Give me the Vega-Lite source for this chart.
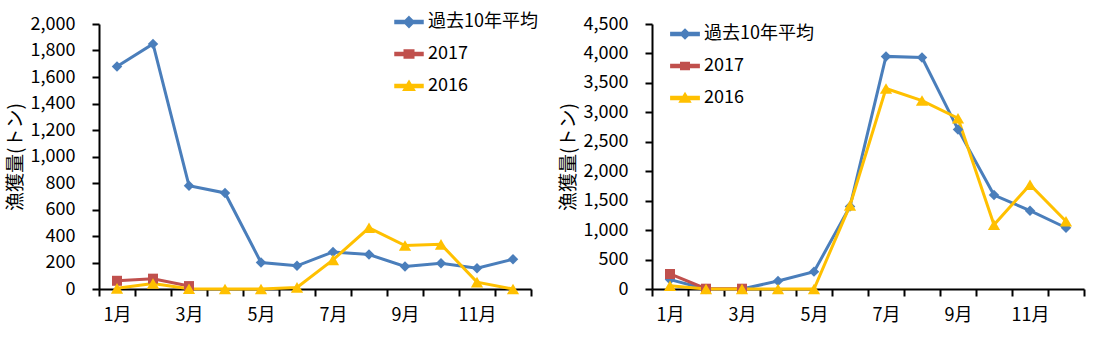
{
  "$schema": "https://vega.github.io/schema/vega-lite/v6.json",
  "background": "white",
  "padding": {"left": 6, "top": 7, "right": 5, "bottom": 5},
  "bounds": "flush",
  "spacing": 121,
  "resolve": {"scale": {"color": "independent"}, "legend": {"color": "independent"}},
  "datasets": {
    "left": [
      {"month": 1, "series": "過去10年平均", "value": 1680},
      {"month": 2, "series": "過去10年平均", "value": 1850},
      {"month": 3, "series": "過去10年平均", "value": 780},
      {"month": 4, "series": "過去10年平均", "value": 725},
      {"month": 5, "series": "過去10年平均", "value": 200},
      {"month": 6, "series": "過去10年平均", "value": 175},
      {"month": 7, "series": "過去10年平均", "value": 280},
      {"month": 8, "series": "過去10年平均", "value": 260},
      {"month": 9, "series": "過去10年平均", "value": 170},
      {"month": 10, "series": "過去10年平均", "value": 195},
      {"month": 11, "series": "過去10年平均", "value": 157},
      {"month": 12, "series": "過去10年平均", "value": 225},
      {"month": 1, "series": "2017", "value": 62},
      {"month": 2, "series": "2017", "value": 78},
      {"month": 3, "series": "2017", "value": 22},
      {"month": 1, "series": "2016", "value": 5},
      {"month": 2, "series": "2016", "value": 42},
      {"month": 3, "series": "2016", "value": 2},
      {"month": 4, "series": "2016", "value": 0},
      {"month": 5, "series": "2016", "value": 0},
      {"month": 6, "series": "2016", "value": 12},
      {"month": 7, "series": "2016", "value": 220},
      {"month": 8, "series": "2016", "value": 462},
      {"month": 9, "series": "2016", "value": 328},
      {"month": 10, "series": "2016", "value": 337},
      {"month": 11, "series": "2016", "value": 52},
      {"month": 12, "series": "2016", "value": 0}
    ],
    "right": [
      {"month": 1, "series": "過去10年平均", "value": 160},
      {"month": 2, "series": "過去10年平均", "value": 0},
      {"month": 3, "series": "過去10年平均", "value": 0},
      {"month": 4, "series": "過去10年平均", "value": 135},
      {"month": 5, "series": "過去10年平均", "value": 295},
      {"month": 6, "series": "過去10年平均", "value": 1400},
      {"month": 7, "series": "過去10年平均", "value": 3950},
      {"month": 8, "series": "過去10年平均", "value": 3930},
      {"month": 9, "series": "過去10年平均", "value": 2710},
      {"month": 10, "series": "過去10年平均", "value": 1595},
      {"month": 11, "series": "過去10年平均", "value": 1330},
      {"month": 12, "series": "過去10年平均", "value": 1040},
      {"month": 1, "series": "2017", "value": 255},
      {"month": 2, "series": "2017", "value": 5},
      {"month": 3, "series": "2017", "value": 5},
      {"month": 1, "series": "2016", "value": 55},
      {"month": 2, "series": "2016", "value": 0},
      {"month": 3, "series": "2016", "value": 0},
      {"month": 4, "series": "2016", "value": 0},
      {"month": 5, "series": "2016", "value": 0},
      {"month": 6, "series": "2016", "value": 1420},
      {"month": 7, "series": "2016", "value": 3405},
      {"month": 8, "series": "2016", "value": 3200},
      {"month": 9, "series": "2016", "value": 2900},
      {"month": 10, "series": "2016", "value": 1090},
      {"month": 11, "series": "2016", "value": 1770},
      {"month": 12, "series": "2016", "value": 1150}
    ]
  },
  "hconcat": [
    {
      "width": 432,
      "height": 265,
      "data": {"name": "left"},
      "encoding": {
        "x": {"field": "month", "type": "ordinal", "bandPosition": 0.5, "scale": {"type": "band", "paddingInner": 0, "paddingOuter": 0},
          "axis": {"title": null, "labelAngle": 0, "tickBand": "extent", "labelExpr": "datum.value % 2 == 1 ? datum.value + '月' : ''", "labelPadding": 10}},
        "y": {"field": "value", "type": "quantitative", "scale": {"domain": [0, 2000], "nice": false, "zero": true},
          "axis": {"title": "漁獲量(トン)", "values": [0, 200, 400, 600, 800, 1000, 1200, 1400, 1600, 1800, 2000], "format": ",d", "labelPadding": 17, "titlePadding": 5, "labelOverlap": false}}
      },
      "layer": [
        {
          "mark": {"type": "line", "strokeWidth": 3},
          "encoding": {
            "color": {"field": "series", "type": "nominal",
              "scale": {"domain": ["過去10年平均", "2017", "2016"], "range": ["#4A7EBB", "#C0504D", "#FFC000"]},
              "legend": {"orient": "none", "legendX": 295, "legendY": -17, "title": null, "symbolSize": 784, "labelOffset": 4, "rowPadding": 8, "padding": 0, "labelFontSize": 18, "labelColor": "black",
                "encode": {"symbols": {"update": {
                  "shape": {"signal": "datum.value === '2017' ? 'M-1,-0.1L1,-0.1L1,0.1L-1,0.1ZM-0.34,-0.28L0.34,-0.28L0.34,0.28L-0.34,0.28Z' : datum.value === '2016' ? 'M-1,-0.1L1,-0.1L1,0.1L-1,0.1ZM0,-0.36L0.4,0.3L-0.4,0.3Z' : 'M-1,-0.1L1,-0.1L1,0.1L-1,0.1ZM0,-0.38L0.38,0L0,0.38L-0.38,0Z'"},
                  "fill": {"signal": "datum.value === '2017' ? '#C0504D' : datum.value === '2016' ? '#FFC000' : '#4A7EBB'"},
                  "fillOpacity": {"value": 1},
                  "opacity": {"value": 1}
                }}}}}
          }
        },
        {
          "transform": [{"filter": "datum.series === '過去10年平均'"}],
          "mark": {"type": "point", "filled": true, "opacity": 1, "shape": "diamond", "size": 110, "color": "#4A7EBB"}
        },
        {
          "transform": [{"filter": "datum.series === '2017'"}],
          "mark": {"type": "point", "filled": true, "opacity": 1, "shape": "square", "size": 100, "color": "#C0504D"}
        },
        {
          "transform": [{"filter": "datum.series === '2016'"}],
          "mark": {"type": "point", "filled": true, "opacity": 1, "shape": "triangle-up", "size": 150, "color": "#FFC000"}
        }
      ]
    },
    {
      "width": 432,
      "height": 265,
      "data": {"name": "right"},
      "encoding": {
        "x": {"field": "month", "type": "ordinal", "bandPosition": 0.5, "scale": {"type": "band", "paddingInner": 0, "paddingOuter": 0},
          "axis": {"title": null, "labelAngle": 0, "tickBand": "extent", "labelExpr": "datum.value % 2 == 1 ? datum.value + '月' : ''", "labelPadding": 10}},
        "y": {"field": "value", "type": "quantitative", "scale": {"domain": [0, 4500], "nice": false, "zero": true},
          "axis": {"title": "漁獲量(トン)", "values": [0, 500, 1000, 1500, 2000, 2500, 3000, 3500, 4000, 4500], "format": ",d", "labelPadding": 17, "titlePadding": 5, "labelOverlap": false}}
      },
      "layer": [
        {
          "mark": {"type": "line", "strokeWidth": 3},
          "encoding": {
            "color": {"field": "series", "type": "nominal",
              "scale": {"domain": ["過去10年平均", "2017", "2016"], "range": ["#4A7EBB", "#C0504D", "#FFC000"]},
              "legend": {"orient": "none", "legendX": 18, "legendY": -5, "title": null, "symbolSize": 800, "labelOffset": 4, "rowPadding": 8, "padding": 0, "labelFontSize": 18, "labelColor": "black",
                "encode": {"symbols": {"update": {
                  "shape": {"signal": "datum.value === '2017' ? 'M-1,-0.1L1,-0.1L1,0.1L-1,0.1ZM-0.3,-0.24L0.3,-0.24L0.3,0.24L-0.3,0.24Z' : datum.value === '2016' ? 'M-1,-0.1L1,-0.1L1,0.1L-1,0.1ZM0,-0.34L0.38,0.28L-0.38,0.28Z' : 'M-1,-0.1L1,-0.1L1,0.1L-1,0.1ZM0,-0.34L0.34,0L0,0.34L-0.34,0Z'"},
                  "fill": {"signal": "datum.value === '2017' ? '#C0504D' : datum.value === '2016' ? '#FFC000' : '#4A7EBB'"},
                  "fillOpacity": {"value": 1},
                  "opacity": {"value": 1}
                }}}}}
          }
        },
        {
          "transform": [{"filter": "datum.series === '過去10年平均'"}],
          "mark": {"type": "point", "filled": true, "opacity": 1, "shape": "diamond", "size": 110, "color": "#4A7EBB"}
        },
        {
          "transform": [{"filter": "datum.series === '2017'"}],
          "mark": {"type": "point", "filled": true, "opacity": 1, "shape": "square", "size": 100, "color": "#C0504D"}
        },
        {
          "transform": [{"filter": "datum.series === '2016'"}],
          "mark": {"type": "point", "filled": true, "opacity": 1, "shape": "triangle-up", "size": 150, "color": "#FFC000"}
        }
      ]
    }
  ],
  "config": {
    "font": "Noto Sans CJK JP",
    "view": {"stroke": null},
    "axis": {
      "grid": false,
      "domainColor": "black",
      "domainWidth": 2,
      "tickColor": "black",
      "tickWidth": 2,
      "tickSize": 7,
      "labelColor": "black",
      "labelFontSize": 18,
      "labelFont": "Noto Sans CJK JP",
      "titleColor": "black",
      "titleFontSize": 19,
      "titleFontWeight": "normal",
      "titleFont": "Noto Sans CJK JP"
    },
    "legend": {"labelFont": "Noto Sans CJK JP"}
  }
}
